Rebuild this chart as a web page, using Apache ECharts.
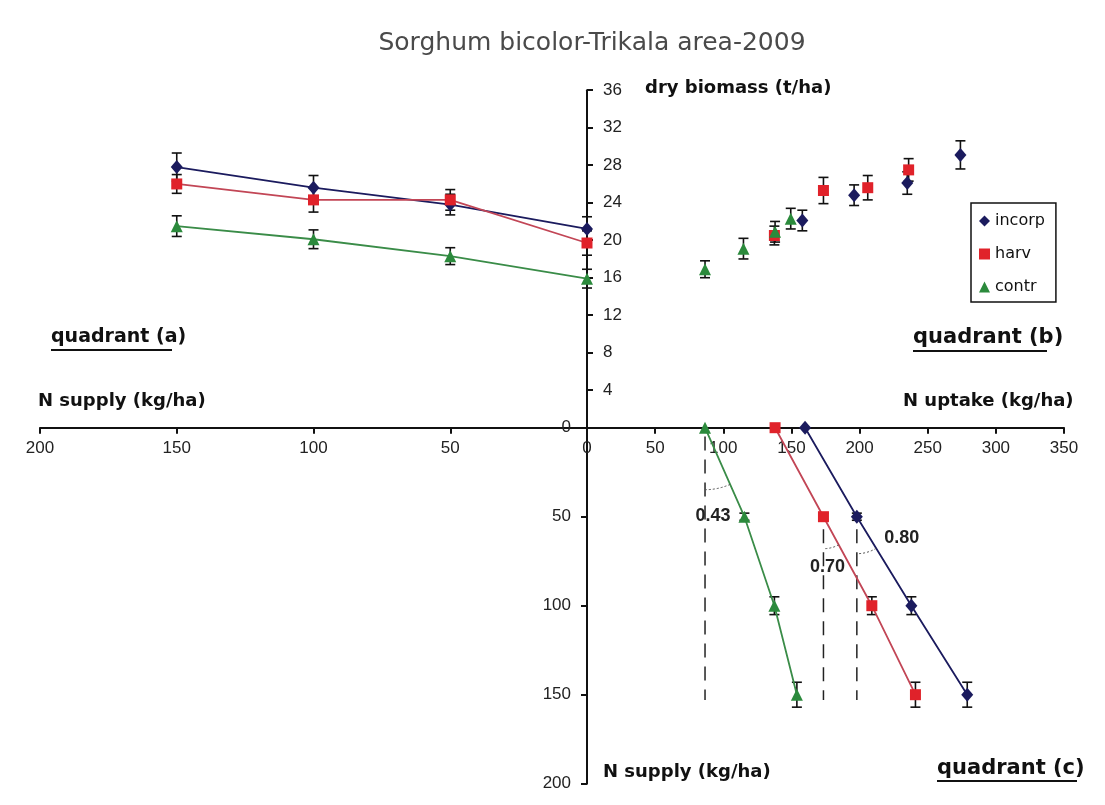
<!DOCTYPE html>
<html>
<head>
<meta charset="utf-8">
<script src="https://cdn.jsdelivr.net/npm/echarts@6/dist/echarts.min.js"></script>
<style>
html,body{margin:0;padding:0;background:#fff;}
#chart{width:1105px;height:805px;}
</style>
</head>
<body>
<div id="chart"></div>
<script>
// ---------------- DATA ----------------
const seriesNames = ['incorp', 'harv', 'contr'];
const supply = [0, 50, 100, 150];            // N supply (kg/ha)

// quadrant (a): N supply vs dry biomass (t/ha)
const incorpBiomassA = [21.2, 23.8, 25.6, 27.8];
const harvBiomassA   = [19.7, 24.3, 24.3, 26.0];
const contrBiomassA  = [15.9, 18.3, 20.1, 21.5];
const incorpErrA = [1.3, 1.1, 1.3, 1.5];
const harvErrA   = [1.3, 1.1, 1.3, 1.0];
const contrErrA  = [1.0, 0.9, 1.0, 1.1];

// quadrant (b): N uptake vs dry biomass
const incorpUptakeB = [158, 196, 235, 274];
const harvUptakeB   = [137.5, 173.5, 206, 236];
const contrUptakeB  = [86.6, 114.8, 138, 149.5];
const incorpBiomassB = [22.1, 24.8, 26.1, 29.1];
const harvBiomassB   = [20.5, 25.3, 25.6, 27.5];
const contrBiomassB  = [16.9, 19.1, 20.9, 22.3];
const incorpErrB = [1.1, 1.1, 1.2, 1.5];
const harvErrB   = [1.0, 1.4, 1.3, 1.2];
const contrErrB  = [0.9, 1.1, 1.1, 1.1];

// quadrant (c): N uptake vs N supply
const incorpUptakeC = [160, 198, 238, 279];
const harvUptakeC   = [138, 173.5, 209, 241];
const contrUptakeC  = [86.6, 115.5, 137.5, 154];
const supplyErrC    = [0, 2, 5, 7];

// slopes (recovery efficiency) and the guides they refer to
const slopeLabels = ['0.43', '0.70', '0.80'];
const guideStartIndex = [0, 1, 1];        // point index the dashed guide starts from
const guideTopSupply = [5, 57, 57];
const guideBottomSupply = 153;

// axis ranges
const supplyAxisMax = 200, supplyInterval = 50;
const uptakeAxisMax = 350, uptakeInterval = 50;
const biomassAxisMax = 36, biomassInterval = 4;

// ---------------- STYLE ----------------
const colors = { incorp: '#1b1b5e', harv: '#e0222a', contr: '#2b8a3c' };
const lineColors = { incorp: '#1b1b5e', harv: '#c24656', contr: '#3a8c48' };
const symbols = { incorp: 'diamond', harv: 'rect', contr: 'triangle' };
const symbolSizes = { incorp: [12, 14], harv: 11, contr: 12 };
const tickFont = { fontFamily: 'Liberation Sans', fontSize: 17, color: '#222' };
const axisLineStyle = { color: '#111', width: 2 };

const chart = echarts.init(document.getElementById('chart'), null, { renderer: 'canvas' });

function zip2(xs, ys) { return xs.map((x, i) => [x, ys[i]]); }
function zip3(xs, ys, es) { return xs.map((x, i) => [x, ys[i], es[i]]); }

function errorBarRender(params, api) {
  const x = api.value(0), y = api.value(1), e = api.value(2);
  if (!e) return null;
  const top = api.coord([x, y + e]);
  const bot = api.coord([x, y - e]);
  const hw = 5;
  const st = { stroke: '#111', lineWidth: 1.6 };
  return {
    type: 'group',
    children: [
      { type: 'line', shape: { x1: top[0], y1: top[1], x2: bot[0], y2: bot[1] }, style: st },
      { type: 'line', shape: { x1: top[0] - hw, y1: top[1], x2: top[0] + hw, y2: top[1] }, style: st },
      { type: 'line', shape: { x1: bot[0] - hw, y1: bot[1], x2: bot[0] + hw, y2: bot[1] }, style: st }
    ]
  };
}

const dataA = {
  incorp: [incorpBiomassA, incorpErrA],
  harv: [harvBiomassA, harvErrA],
  contr: [contrBiomassA, contrErrA]
};
const dataB = {
  incorp: [incorpUptakeB, incorpBiomassB, incorpErrB],
  harv: [harvUptakeB, harvBiomassB, harvErrB],
  contr: [contrUptakeB, contrBiomassB, contrErrB]
};
const dataC = { incorp: incorpUptakeC, harv: harvUptakeC, contr: contrUptakeC };

const series = [];
seriesNames.forEach(name => {
  // quadrant a
  series.push({
    type: 'custom', xAxisIndex: 0, yAxisIndex: 0, z: 2, silent: true,
    renderItem: errorBarRender, encode: { x: 0, y: 1 },
    data: zip3(supply, dataA[name][0], dataA[name][1])
  });
  series.push({
    name: name, type: 'line', xAxisIndex: 0, yAxisIndex: 0, z: 3,
    data: zip2(supply, dataA[name][0]),
    symbol: symbols[name], symbolSize: symbolSizes[name],
    itemStyle: { color: colors[name] },
    lineStyle: { color: lineColors[name], width: 1.8 }
  });
  // quadrant b
  series.push({
    type: 'custom', xAxisIndex: 1, yAxisIndex: 1, z: 2, silent: true,
    renderItem: errorBarRender, encode: { x: 0, y: 1 },
    data: zip3(dataB[name][0], dataB[name][1], dataB[name][2])
  });
  series.push({
    name: name, type: 'scatter', xAxisIndex: 1, yAxisIndex: 1, z: 3,
    data: zip2(dataB[name][0], dataB[name][1]),
    symbol: symbols[name], symbolSize: symbolSizes[name],
    itemStyle: { color: colors[name], opacity: 1 }
  });
  // quadrant c
  series.push({
    type: 'custom', xAxisIndex: 2, yAxisIndex: 2, z: 2, silent: true,
    renderItem: errorBarRender, encode: { x: 0, y: 1 },
    data: zip3(dataC[name], supply, supplyErrC)
  });
  series.push({
    name: name, type: 'line', xAxisIndex: 2, yAxisIndex: 2, z: 3,
    data: zip2(dataC[name], supply),
    symbol: symbols[name], symbolSize: symbolSizes[name],
    itemStyle: { color: colors[name] },
    lineStyle: { color: lineColors[name], width: 1.8 }
  });
});

// dashed vertical guides in quadrant c
const guideSeriesOrder = ['contr', 'harv', 'incorp'];
guideSeriesOrder.forEach((name, k) => {
  const gx = dataC[name][guideStartIndex[k]];
  series.push({
    type: 'line', xAxisIndex: 2, yAxisIndex: 2, z: 1, silent: true,
    symbol: 'none',
    data: [[gx, guideTopSupply[k]], [gx, guideBottomSupply]],
    lineStyle: { color: '#222', width: 1.5, type: [14, 9] }
  });
});

const option = {
  backgroundColor: '#ffffff',
  animation: false,
  legend: {
    orient: 'vertical',
    left: 971, top: 203,
    selectedMode: false,
    data: [
      { name: 'incorp', icon: 'diamond' },
      { name: 'harv', icon: 'rect' },
      { name: 'contr', icon: 'triangle' }
    ],
    itemWidth: 11, itemHeight: 11, itemGap: 17,
    padding: [10, 11, 7, 8],
    borderColor: '#111', borderWidth: 1.5,
    textStyle: { fontFamily: 'DejaVu Sans', fontSize: 16, color: '#111' }
  },
  grid: [
    { left: 40, top: 90.2, width: 547, height: 337.5 },
    { left: 587, top: 90.2, width: 477, height: 337.5 },
    { left: 587, top: 427.7, width: 477, height: 356 }
  ],
  xAxis: [
    {
      gridIndex: 0, type: 'value', inverse: true, min: 0, max: supplyAxisMax, interval: supplyInterval,
      position: 'bottom',
      axisLine: { show: true, lineStyle: axisLineStyle },
      axisTick: { show: true, length: 6, lineStyle: axisLineStyle },
      axisLabel: Object.assign({ margin: 12 }, tickFont),
      splitLine: { show: false }
    },
    {
      gridIndex: 1, type: 'value', min: 0, max: uptakeAxisMax, interval: uptakeInterval,
      position: 'bottom',
      axisLine: { show: true, lineStyle: axisLineStyle },
      axisTick: { show: true, length: 6, lineStyle: axisLineStyle },
      axisLabel: Object.assign({ margin: 12, showMinLabel: false }, tickFont),
      splitLine: { show: false }
    },
    {
      gridIndex: 2, type: 'value', min: 0, max: uptakeAxisMax, interval: uptakeInterval,
      show: false
    }
  ],
  yAxis: [
    {
      gridIndex: 0, type: 'value', min: 0, max: biomassAxisMax, interval: biomassInterval, show: false
    },
    {
      gridIndex: 1, type: 'value', min: 0, max: biomassAxisMax, interval: biomassInterval,
      position: 'left',
      axisLine: { show: true, lineStyle: axisLineStyle },
      axisTick: { show: true, inside: true, length: 6, lineStyle: axisLineStyle },
      axisLabel: Object.assign({ inside: true, margin: 16, showMinLabel: false }, tickFont),
      splitLine: { show: false }
    },
    {
      gridIndex: 2, type: 'value', inverse: true, min: 0, max: supplyAxisMax, interval: supplyInterval,
      position: 'left',
      axisLine: { show: true, lineStyle: axisLineStyle },
      axisTick: { show: true, length: 6, lineStyle: axisLineStyle },
      axisLabel: Object.assign({ margin: 16, showMinLabel: true }, tickFont),
      splitLine: { show: false }
    }
  ],
  series: series
};

chart.setOption(option);

// ---------------- ANNOTATIONS ----------------
function txt(text, x, y, font, align, fill, extra) {
  return Object.assign({
    type: 'text', x: x, y: y, z: 10, silent: true,
    style: {
      text: text, font: font, fill: fill || '#111',
      align: align || 'left', textAlign: align || 'left',
      verticalAlign: 'middle', textVerticalAlign: 'middle'
    }
  }, extra || {});
}
function hline(x1, x2, y, w) {
  return { type: 'line', z: 10, silent: true, shape: { x1: x1, y1: y, x2: x2, y2: y }, style: { stroke: '#111', lineWidth: w || 2 } };
}

const boldLbl = 'bold 18px "DejaVu Sans"';
const graphics = [
  txt('Sorghum bicolor-Trikala area-2009', 592, 43, '25px "DejaVu Sans"', 'center', '#4a4a4a'),
  txt('dry biomass (t/ha)', 645, 88, boldLbl, 'left'),
  txt('N supply (kg/ha)', 38, 401, boldLbl, 'left'),
  txt('N uptake (kg/ha)', 903, 401, boldLbl, 'left'),
  txt('N supply (kg/ha)', 603, 772, boldLbl, 'left'),
  txt('quadrant (a)', 51, 337, 'bold 19px "DejaVu Sans"', 'left'),
  hline(51, 172, 350),
  txt('quadrant (b)', 913, 338, 'bold 21px "DejaVu Sans"', 'left'),
  hline(913, 1047, 351),
  txt('quadrant (c)', 937, 769, 'bold 21px "DejaVu Sans"', 'left'),
  hline(937, 1077, 781)
];

// slope arcs and labels computed from data through the chart's scales
const arcRadius = [62, 32, 37];
const labelOffsets = [[8, 88], [4, 50], [45, 21]]; // px offsets of slope labels from guide origin
guideSeriesOrder.forEach((name, k) => {
  const i = guideStartIndex[k];
  const p0 = chart.convertToPixel({ gridIndex: 2 }, [dataC[name][i], supply[i]]);
  const p1 = chart.convertToPixel({ gridIndex: 2 }, [dataC[name][i + 1], supply[i + 1]]);
  const ang = Math.atan2(p1[1] - p0[1], p1[0] - p0[0]);
  graphics.push({
    type: 'arc', z: 9, silent: true,
    shape: { cx: p0[0], cy: p0[1], r: arcRadius[k], startAngle: ang, endAngle: Math.PI / 2, clockwise: true },
    style: { stroke: '#555', lineWidth: 1, lineDash: [2, 2], fill: null }
  });
  graphics.push(txt(slopeLabels[k], p0[0] + labelOffsets[k][0], p0[1] + labelOffsets[k][1],
    'bold 18px "Liberation Sans"', 'center', '#222'));
});

chart.setOption({ graphic: { elements: graphics } });
</script>
</body>
</html>
